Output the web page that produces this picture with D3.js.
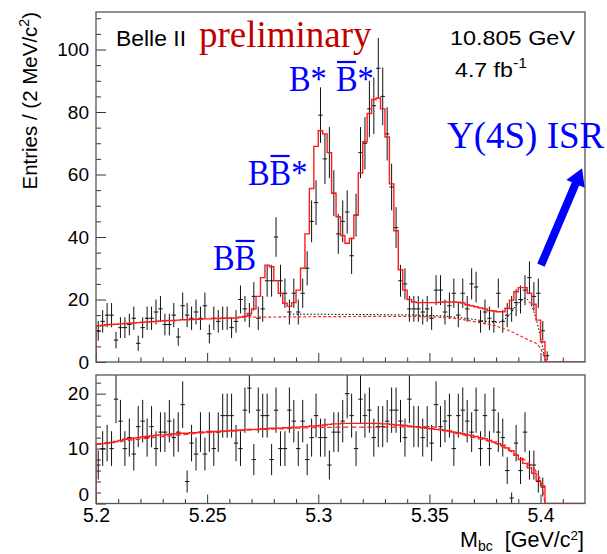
<!DOCTYPE html>
<html>
<head>
<meta charset="utf-8">
<script src="https://cdn.jsdelivr.net/npm/d3@7"></script>
<style>
  body { margin: 0; background: #fff; }
  svg { display: block; }
</style>
</head>
<body>
<svg id="chart" width="607" height="554"></svg>
<script>
// ---- binning: 2 MeV bins starting at 5.200 GeV ----
const binLow = 5.2;
const binWidth = 0.002;
const massRange = [5.2, 5.42];

// ---- upper panel: signal selection, entries per bin ----
const signalCounts = [
  10, 13, 15, 15, 7, 11, 11, 12, 14, 6,
  11, 14, 14, 16, 17, 12, 12, 15, 8, 18,
  15, 14, 16, 14, 18, 9, 14, 13, 14, 14,
  11, 13, 20, 17, 15, 21, 14, 17, 26, 26,
  40, 26, 22, 16, 22, 16, 22, 30, 45, 51,
  79, 65, 67, 54, 41, 45, 48, 34, 47, 67,
  70, 81, 82, 94, 85, 73, 56, 43, 26, 25,
  17, 17, 17, 16, 17, 14, 23, 23, 16, 18,
  22, 15, 22, 17, 25, 24, 13, 16, 14, 13,
  22, 13, 15, 17, 19, 20, 23, 27, 21, 22,
  10, 2
];

// total fit, per bin
const signalFit = [
  11.5, 11.7, 11.9, 12.0, 12.1, 12.2, 12.3, 12.4, 12.5, 12.6,
  12.7, 12.8, 12.9, 13.0, 13.1, 13.2, 13.3, 13.3, 13.4, 13.5,
  13.5, 13.6, 13.7, 13.7, 13.8, 13.8, 13.9, 13.9, 14.0, 14.0,
  14.1, 14.1, 14.3, 14.6, 15.5, 17.0, 21.0, 27.0, 31.0, 30.5,
  26.0, 22.0, 18.8, 17.8, 19.0, 23.0, 30.0, 41.0, 55.5, 69.0,
  74.0, 73.0, 67.0, 54.0, 46.5, 40.5, 38.0, 39.5, 47.0, 60.5,
  70.5, 79.5, 84.0, 84.5, 81.0, 72.0, 57.0, 42.0, 29.5, 23.0,
  20.0, 19.2, 19.0, 19.0, 19.0, 19.0, 19.0, 19.1, 19.2, 19.2,
  19.2, 19.1, 18.9, 18.3, 18.0, 17.7, 17.3, 17.0, 16.5, 16.3,
  16.1, 16.1, 17.2, 19.8, 22.5, 23.8, 23.8, 22.0, 18.5, 13.4,
  6.5, 0, 0, 0, 0, 0, 0, 0, 0, 0
];

// combinatorial background component (red dashed)
const signalBkgMass = [5.264, 5.30, 5.34, 5.355, 5.365, 5.371, 5.38, 5.387, 5.3946, 5.399, 5.4014, 5.403];
const signalBkgValue = [14.3, 14.5, 14.6, 14.3, 13.6, 12.8, 11.5, 9.7, 7.0, 5.4, 2.2, 0];

// background plus ISR component (black dotted)
const signalIsrMass = [5.287, 5.335, 5.35, 5.36, 5.365, 5.372, 5.378, 5.381, 5.384, 5.3866, 5.3886, 5.391, 5.393, 5.3954, 5.397, 5.399, 5.4006, 5.402];
const signalIsrValue = [15.3, 15.1, 14.9, 14.5, 14.1, 13.4, 12.8, 12.7, 13.8, 15.5, 17.7, 19.3, 20.4, 18.8, 16.1, 11.0, 6.0, 0.6];

// ---- lower panel: background-only control sample ----
const controlCounts = [
  7, 10, 11, 10, 19, 15, 10, 12, 9, 14,
  15, 12, 14, 10, 13, 13, 15, 12, 13, 18,
  4, 11, 9, 13, 9, 13, 10, 13, 16, 16,
  16, 11, 10, 17, 21, 8, 17, 16, 16, 8,
  17, 10, 10, 17, 15, 10, 15, 8, 12, 16,
  12, 12, 7, 13, 13, 15, 20, 16, 10, 19,
  16, 17, 12, 14, 14, 15, 17, 17, 15, 12,
  19, 14, 14, 12, 14, 11, 18, 14, 15, 16,
  10, 16, 17, 15, 13, 17, 10, 16, 10, 17,
  13, 12, 6, 1, 11, 6, 13, 7, 7, 4,
  3
];

const controlFit = [
  10.8, 10.9, 11.0, 11.1, 11.3, 11.5, 11.7, 11.8, 11.9, 12.0,
  12.1, 12.2, 12.3, 12.4, 12.5, 12.5, 12.6, 12.7, 12.7, 12.8,
  12.8, 12.9, 12.9, 13.0, 13.0, 13.1, 13.1, 13.1, 13.2, 13.2,
  13.3, 13.3, 13.4, 13.4, 13.5, 13.5, 13.5, 13.6, 13.6, 13.7,
  13.7, 13.7, 13.8, 13.8, 13.9, 13.9, 14.0, 14.0, 14.1, 14.1,
  14.2, 14.3, 14.4, 14.5, 14.5, 14.6, 14.6, 14.6, 14.6, 14.6,
  14.6, 14.6, 14.6, 14.6, 14.5, 14.5, 14.4, 14.3, 14.3, 14.2,
  14.1, 14.0, 13.9, 13.8, 13.7, 13.6, 13.5, 13.4, 13.3, 13.2,
  13.0, 12.9, 12.7, 12.5, 12.4, 12.2, 12.0, 11.8, 11.5, 11.2,
  10.9, 10.6, 10.1, 9.6, 8.8, 8.0, 7.3, 6.5, 5.5, 4.2,
  3.2, 0, 0, 0, 0, 0, 0, 0, 0, 0
];

const controlBkgMass = [5.2, 5.25, 5.29, 5.31, 5.33, 5.35, 5.36, 5.37, 5.38, 5.388, 5.394, 5.398, 5.4005, 5.402];
const controlBkgValue = [10.8, 12.9, 13.7, 13.9, 13.9, 14.0, 13.0, 12.0, 10.9, 9.2, 7.6, 5.8, 3.4, 0];

// ---- axis ticks ----
const massTicks = [5.2, 5.25, 5.3, 5.35, 5.4];
const massTickLabels = ["5.2", "5.25", "5.3", "5.35", "5.4"];
const signalYTicks = [0, 20, 40, 60, 80, 100];
const controlYTicks = [0, 10, 20];

// ---- drawing ----
const sans = "'Liberation Sans', Arial, Helvetica, sans-serif";
const serif = "'Liberation Serif', 'Times New Roman', serif";
const svg = d3.select("#chart");

const frameL = 96, frameR = 585;
const x = d3.scaleLinear().domain(massRange).range([frameL, frameR]);

const panels = [
  { id: "sig", top: 12, bottom: 362, yMax: 112, counts: signalCounts, fit: signalFit,
    majors: signalYTicks, minorStep: 5, xLabels: false },
  { id: "ctl", top: 375, bottom: 503.5, yMax: 23.4, counts: controlCounts, fit: controlFit,
    majors: controlYTicks, minorStep: 2, xLabels: true }
];

panels.forEach(p => {
  p.y = d3.scaleLinear().domain([0, p.yMax]).range([p.bottom, p.top]);
});

function stepPoints(fit) {
  const pts = [[binLow, 0]];
  fit.forEach((v, i) => pts.push([binLow + i * binWidth, v]));
  pts.push([massRange[1], fit[fit.length - 1]]);
  return pts;
}

function styleAxis(g) {
  g.select(".domain").remove();
  g.selectAll(".tick line").attr("stroke", "#333").attr("stroke-width", 1);
  g.selectAll(".tick text").attr("font-family", sans).attr("font-size", 19).attr("fill", "#000");
}

panels.forEach(p => {
  const y = p.y;
  const clipId = "clip-" + p.id;
  svg.append("clipPath").attr("id", clipId)
    .append("rect").attr("x", frameL).attr("y", p.top)
    .attr("width", frameR - frameL).attr("height", p.bottom - p.top);

  // minor / major ticks on the left axis (pointing inward)
  const minors = d3.range(0, p.yMax, p.minorStep).filter(v => !p.majors.includes(v));
  const gMinY = svg.append("g").attr("transform", `translate(${frameL},0)`)
    .call(d3.axisLeft(y).tickValues(minors).tickSize(-5).tickFormat(""));
  styleAxis(gMinY);
  const gMajY = svg.append("g").attr("transform", `translate(${frameL},0)`)
    .call(d3.axisLeft(y).tickValues(p.majors).tickSize(-10).tickPadding(7).tickFormat(d3.format("d")));
  styleAxis(gMajY);
  if (p.xLabels) {
    // lift the zero label so it clears the mass labels beneath
    gMajY.selectAll(".tick text").filter(d => d === 0).attr("dy", "-0.16em");
  }

  // mass axis ticks (pointing inward)
  const xMinors = d3.range(1, 22).map(i => binLow + i * 0.01)
    .filter(v => !massTicks.some(m => Math.abs(m - v) < 1e-6));
  const gMinX = svg.append("g").attr("transform", `translate(0,${p.bottom})`)
    .call(d3.axisBottom(x).tickValues(xMinors).tickSize(-4.5).tickFormat(""));
  styleAxis(gMinX);
  const gMajX = svg.append("g").attr("transform", `translate(0,${p.bottom})`)
    .call(d3.axisBottom(x).tickValues(massTicks).tickSize(-9).tickPadding(5)
      .tickFormat((d, i) => p.xLabels ? massTickLabels[i] : ""));
  styleAxis(gMajX);
  gMajX.selectAll(".tick text").attr("dy", "0.71em").attr("font-size", 19.5);

  const plot = svg.append("g").attr("clip-path", `url(#${clipId})`);

  // data points with Poisson error bars and bin-width markers
  const pts = plot.append("g").attr("stroke", "#111").attr("stroke-width", 1).attr("fill", "none");
  p.counts.forEach((n, i) => {
    const lo = binLow + i * binWidth;
    const c = lo + binWidth / 2;
    const e = Math.sqrt(n);
    pts.append("line").attr("x1", x(c)).attr("x2", x(c)).attr("y1", y(n - e)).attr("y2", y(n + e));
    pts.append("line").attr("x1", x(lo)).attr("x2", x(lo + binWidth)).attr("y1", y(n)).attr("y2", y(n));
  });

  // fitted components
  if (p.id === "sig") {
    plot.append("path")
      .attr("d", d3.line().x(d => x(d[0])).y(d => y(d[1])).curve(d3.curveMonotoneX)(d3.zip(signalBkgMass, signalBkgValue)))
      .attr("fill", "none").attr("stroke", "#ff2020").attr("stroke-width", 1.2).attr("stroke-dasharray", "3,2");
    plot.append("path")
      .attr("d", d3.line().x(d => x(d[0])).y(d => y(d[1])).curve(d3.curveMonotoneX)(d3.zip(signalIsrMass, signalIsrValue)))
      .attr("fill", "none").attr("stroke", "#000").attr("stroke-width", 1).attr("stroke-dasharray", "1.5,2");
  } else {
    plot.append("path")
      .attr("d", d3.line().x(d => x(d[0])).y(d => y(d[1])).curve(d3.curveMonotoneX)(d3.zip(controlBkgMass, controlBkgValue)))
      .attr("fill", "none").attr("stroke", "#ff2020").attr("stroke-width", 1.2).attr("stroke-dasharray", "5,3");
  }
  plot.append("path")
    .attr("d", d3.line().x(d => x(d[0])).y(d => y(d[1])).curve(d3.curveStepAfter)(stepPoints(p.fit)))
    .attr("fill", "none").attr("stroke", "#ff1a1a").attr("stroke-width", 1.4);

  // frame
  svg.append("rect").attr("x", frameL).attr("y", p.top)
    .attr("width", frameR - frameL).attr("height", p.bottom - p.top)
    .attr("fill", "none").attr("stroke", "#555").attr("stroke-width", 1.3);
});

// ---- axis titles ----
const yTitle = svg.append("text")
  .attr("transform", "translate(37,12) rotate(-90)")
  .attr("text-anchor", "end")
  .attr("font-family", sans).attr("font-size", 20.5).attr("fill", "#000");
yTitle.append("tspan").text("Entries / (2 MeV/c");
yTitle.append("tspan").text("2").attr("font-size", 14).attr("dy", -8);
yTitle.append("tspan").text(")").attr("dy", 8);

const xTitle = svg.append("text")
  .attr("x", 584).attr("y", 546.5)
  .attr("text-anchor", "end")
  .attr("font-family", sans).attr("font-size", 21.5).attr("fill", "#000");
xTitle.append("tspan").text("M");
xTitle.append("tspan").text("bc").attr("font-size", 14).attr("dy", 4);
xTitle.append("tspan").text("\u00a0\u00a0[GeV/c").attr("dy", -4);
xTitle.append("tspan").text("2").attr("font-size", 13.5).attr("dy", -7);
xTitle.append("tspan").text("]").attr("dy", 7);

// ---- experiment / run annotations ----
svg.append("text").attr("x", 116).attr("y", 46)
  .attr("font-family", sans).attr("font-size", 21.5).attr("fill", "#000")
  .attr("textLength", 70).attr("lengthAdjust", "spacingAndGlyphs")
  .text("Belle II");

svg.append("text").attr("x", 199).attr("y", 47)
  .attr("font-family", serif).attr("font-size", 37).attr("fill", "#c00000")
  .text("preliminary");

svg.append("text").attr("x", 450).attr("y", 45)
  .attr("font-family", sans).attr("font-size", 20).attr("fill", "#000")
  .attr("textLength", 125).attr("lengthAdjust", "spacingAndGlyphs")
  .text("10.805 GeV");

const lumi = svg.append("text").attr("x", 455).attr("y", 77)
  .attr("font-family", sans).attr("font-size", 20.5).attr("fill", "#000")
  .attr("textLength", 72).attr("lengthAdjust", "spacingAndGlyphs");
lumi.append("tspan").text("4.7 fb");
lumi.append("tspan").text("-1").attr("font-size", 14).attr("dy", -9);

// ---- peak labels (blue, with overbars for anti-B mesons) ----
function peakLabel(px, py, parts, size, sx) {
  const g = svg.append("g").attr("transform", `translate(${px},${py}) scale(${sx},1)`);
  const t = g.append("text").attr("font-family", serif).attr("font-size", size).attr("fill", "#0000ff");
  parts.forEach(p => t.append("tspan").text(p.t));
  let idx = 0;
  parts.forEach(p => {
    if (p.bar) {
      const box = t.node().getExtentOfChar(idx);
      g.append("line")
        .attr("x1", box.x + size * 0.03).attr("x2", box.x + box.width - size * 0.05)
        .attr("y1", -29).attr("y2", -29)
        .attr("stroke", "#0000ff").attr("stroke-width", 2.2);
    }
    idx += p.t.length;
  });
}

peakLabel(213, 270, [{ t: "B" }, { t: "B", bar: true }], 36, 0.9);
peakLabel(248, 185, [{ t: "B" }, { t: "B", bar: true }, { t: "*" }], 36, 0.9);
peakLabel(289, 91, [{ t: "B*" }], 36, 0.9);
peakLabel(336, 91, [{ t: "B", bar: true }, { t: "*" }], 36, 0.9);

svg.append("text").attr("x", 447).attr("y", 148)
  .attr("font-family", serif).attr("font-size", 37).attr("fill", "#0000ff")
  .text("\u03a5(4S) ISR");

// ---- arrow pointing at the ISR bump ----
const arrowFrom = [5.4002, 31];
const arrowTo = [5.4187, 62];
const sp = panels[0].y;
const ax0 = x(arrowFrom[0]), ay0 = sp(arrowFrom[1]);
const ax1 = x(arrowTo[0]), ay1 = sp(arrowTo[1]);
const len = Math.hypot(ax1 - ax0, ay1 - ay0);
const ux = (ax1 - ax0) / len, uy = (ay1 - ay0) / len;
const headLen = 17, headHalf = 10, shaftHalf = 4;
const bx = ax1 - ux * headLen, by = ay1 - uy * headLen;
const nx = -uy, ny = ux;
svg.append("path")
  .attr("d", [
    [ax0 + nx * shaftHalf, ay0 + ny * shaftHalf],
    [bx + nx * shaftHalf, by + ny * shaftHalf],
    [bx + nx * headHalf, by + ny * headHalf],
    [ax1, ay1],
    [bx - nx * headHalf, by - ny * headHalf],
    [bx - nx * shaftHalf, by - ny * shaftHalf],
    [ax0 - nx * shaftHalf, ay0 - ny * shaftHalf]
  ].map((q, i) => (i ? "L" : "M") + q[0].toFixed(1) + "," + q[1].toFixed(1)).join("") + "Z")
  .attr("fill", "#0000ff");
</script>
</body>
</html>
